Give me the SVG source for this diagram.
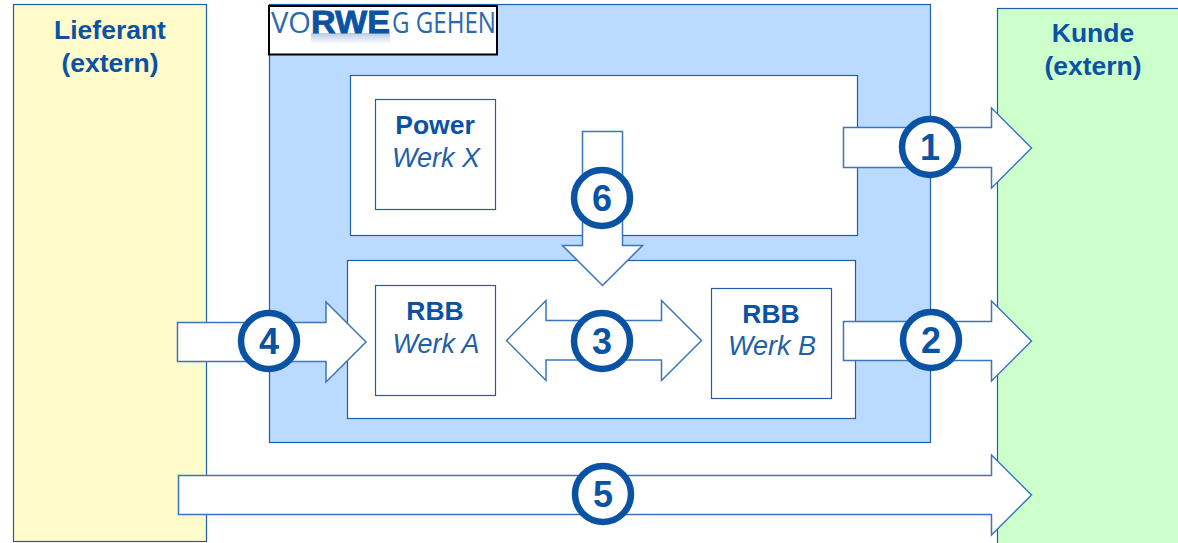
<svg xmlns="http://www.w3.org/2000/svg" width="1178" height="543" viewBox="0 0 1178 543">
<defs>
<linearGradient id="fade" x1="0" y1="0" x2="0" y2="1"><stop offset="0" stop-color="#0a52a4" stop-opacity="0.3"/><stop offset="1" stop-color="#0a52a4" stop-opacity="0"/></linearGradient>
</defs>
<style>
.box{stroke:#1f5fa8;stroke-width:1.2}
.in{fill:#fff;stroke:#1f5fa8;stroke-width:1.2}
.arrow{fill:#fff;stroke:#3a76b8;stroke-width:1.5;stroke-linejoin:miter}
.c{fill:#fff;stroke:#0a52a4;stroke-width:6.5}
.n{font:bold 36px "Liberation Sans",Arial,sans-serif;fill:#0a52a4;text-anchor:middle}
.t{font:bold 26.500px "Liberation Sans",Arial,sans-serif;fill:#0a52a4;text-anchor:middle}
.i{font:italic 27px "Liberation Sans",Arial,sans-serif;fill:#1f5fa8;text-anchor:middle}
.lg{font-family:"Open Sans","Liberation Sans",sans-serif;font-size:30px;fill:#2a68b0}
</style>
<rect width="1178" height="543" fill="#fff"/>
<g id="lieferant"><rect class="box" x="13.500" y="4.500" width="193" height="537" fill="#fffbcb"/>
<text class="t" x="110" y="39">Lieferant</text><text class="t" x="110" y="72">(extern)</text></g>
<g id="kunde"><rect class="box" x="997.500" y="8.500" width="185" height="540" fill="#ccffcc"/>
<text class="t" x="1093" y="42">Kunde</text><text class="t" x="1093" y="75">(extern)</text></g>
<g id="rwe"><rect class="box" x="269.500" y="4.500" width="661" height="438" fill="#bbdaff"/></g>
<g id="logo"><rect x="269" y="6" width="228" height="48.500" fill="#fff" stroke="#000" stroke-width="2"/>
<rect x="311" y="33" width="79" height="11" fill="url(#fade)"/>
<text class="lg" x="271" y="33" textLength="40" lengthAdjust="spacingAndGlyphs">VO</text>
<text x="311" y="33" font-family="'Liberation Sans',sans-serif" font-size="32" font-weight="bold" fill="#0a52a4" stroke="#0a52a4" stroke-width="0.8" textLength="79" lengthAdjust="spacingAndGlyphs">RWE</text>
<text class="lg" x="392" y="33" textLength="104" lengthAdjust="spacingAndGlyphs">G GEHEN</text></g>
<g id="power-area"><rect class="in" x="350.500" y="75.500" width="507" height="160"/></g>
<g id="rbb-area"><rect class="in" x="347.500" y="260.500" width="508" height="158"/></g>
<g id="power"><rect class="in" x="375.500" y="99.500" width="120" height="110"/>
<text class="t" x="435" y="134">Power</text><text class="i" x="436" y="167">Werk X</text></g>
<g id="werk-a"><rect class="in" x="375.500" y="285.500" width="120" height="110"/>
<text class="t" x="435" y="320">RBB</text><text class="i" x="436" y="353">Werk A</text></g>
<g id="werk-b"><rect class="in" x="711.500" y="288.500" width="120" height="110"/>
<text class="t" x="771" y="323">RBB</text><text class="i" x="772" y="355">Werk B</text></g>
<g id="connectors">
<path class="arrow" d="M843.500 127.500H991.500V108L1031.500 148L991.500 188V167.500H843.500Z"/>
<path class="arrow" d="M843.500 321.500H991.500V301L1031.500 341L991.500 381V360.500H843.500Z"/>
<path class="arrow" d="M177.500 322.500H326V302L366 342L326 382V361.500H177.500Z"/>
<path class="arrow" d="M178.500 475.500H991.500V455L1031.500 495L991.500 535V514.500H178.500Z"/>
<path class="arrow" d="M546 300.500V320.500H661.500V300.500L701.500 340.500L661.500 380.500V360H546V380.500L506.500 340.500Z"/>
<path class="arrow" d="M582.500 131.500H622.500V245.500H642.500L602.500 285.500L562.500 245.500H582.500Z"/>
</g>
<g id="badge-1"><circle class="c" cx="930" cy="147" r="28"/><text class="n" x="930" y="160">1</text></g>
<g id="badge-2"><circle class="c" cx="931" cy="340" r="28"/><text class="n" x="931" y="353">2</text></g>
<g id="badge-3"><circle class="c" cx="602" cy="341" r="28"/><text class="n" x="602" y="354">3</text></g>
<g id="badge-4"><circle class="c" cx="269" cy="341" r="28"/><text class="n" x="269" y="354">4</text></g>
<g id="badge-5"><circle class="c" cx="603" cy="494" r="28"/><text class="n" x="603" y="507">5</text></g>
<g id="badge-6"><circle class="c" cx="602" cy="198" r="28"/><text class="n" x="602" y="211">6</text></g>
</svg>
